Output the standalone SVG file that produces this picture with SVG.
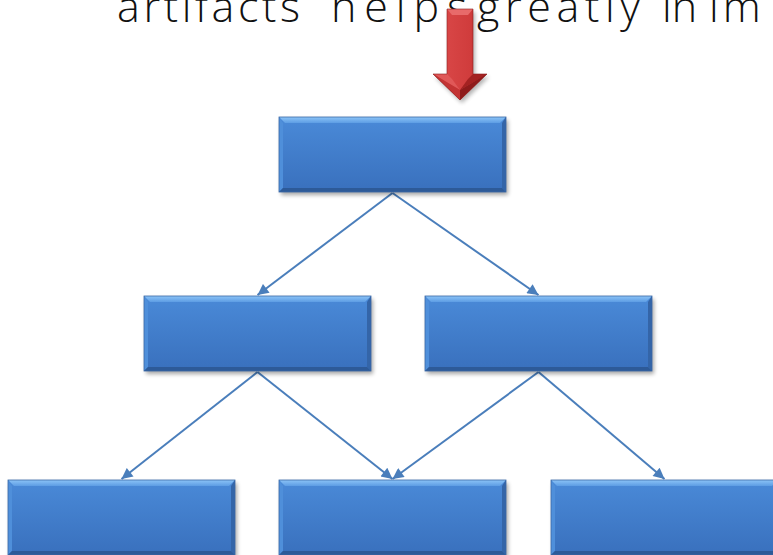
<svg xmlns="http://www.w3.org/2000/svg" xmlns:xlink="http://www.w3.org/1999/xlink" width="773" height="555" viewBox="0 0 773 555">
  <style>
    .title { font-family: "Open Sans", "DejaVu Sans", sans-serif; font-size: 43px; font-weight: 300; fill: #111111; }
    .conn { stroke: #4a7ebb; stroke-width: 2; fill: none; marker-end: url(#head); }
  </style>
  <defs>
    <linearGradient id="body" x1="0" y1="0" x2="0" y2="1">
      <stop offset="0" stop-color="#4a8ad8"/>
      <stop offset="1" stop-color="#3970bd"/>
    </linearGradient>
    <linearGradient id="topBevel" x1="0" y1="0" x2="0" y2="1">
      <stop offset="0" stop-color="#8cc4f7"/>
      <stop offset="1" stop-color="#5d9de4"/>
    </linearGradient>
    <linearGradient id="redShaft" x1="0" y1="0" x2="1" y2="0">
      <stop offset="0" stop-color="#b02626"/>
      <stop offset="0.25" stop-color="#d84646"/>
      <stop offset="0.7" stop-color="#d03c3c"/>
      <stop offset="1" stop-color="#9c1e1e"/>
    </linearGradient>
    <filter id="soft" x="-10%" y="-20%" width="120%" height="150%">
      <feGaussianBlur stdDeviation="2"/>
    </filter>
    <marker id="head" viewBox="0 0 10 10" refX="10" refY="5" markerWidth="7" markerHeight="5.5" orient="auto" markerUnits="strokeWidth">
      <path d="M0,0 L10,5 L0,10 z" fill="#4a7ebb"/>
    </marker>
    <!-- bevelled blue box, 227 x 75 -->
    <symbol id="box" overflow="visible">
      <rect x="2" y="3" width="227" height="75" fill="#000" opacity="0.35" filter="url(#soft)"/>
      <rect x="0" y="0" width="227" height="75" fill="url(#body)"/>
      <polygon points="0,0 227,0 221,6 6,6" fill="url(#topBevel)"/>
      <polygon points="0,0 4,6 4,71 0,75" fill="#4f8fda"/>
      <polygon points="227,0 223,6 223,71 227,75" fill="#3465a8"/>
      <polygon points="0,75 4,71 223,71 227,75" fill="#2d5a98"/>
      <rect x="0" y="0" width="227" height="75" fill="none" stroke="#3a68a6" stroke-width="0.8"/>
    </symbol>
  </defs>

  <rect width="773" height="555" fill="#ffffff"/>

  <!-- heading line, running past the top edge -->
  <g id="heading">
    <text class="title" x="117" y="22" textLength="183" lengthAdjust="spacing">artifacts</text>
    <text class="title" x="331" y="22" textLength="136" lengthAdjust="spacing">helps</text>
    <text class="title" x="477" y="22" textLength="163" lengthAdjust="spacing">greatly</text>
    <text class="title" x="662" y="22">in</text>
    <text class="title" x="709" y="22" letter-spacing="4">im</text>
  </g>

  <!-- red down arrow -->
  <g id="red-arrow">
    <polygon points="449,12 475,12 475,77 489,77 462,103 435,77 449,77" fill="#000" opacity="0.3" filter="url(#soft)"/>
    <polygon points="447,9 473,9 473,74 487,74 460,100 433,74 447,74" fill="url(#redShaft)"/>
    <polygon points="447,9 473,9 468,15 452,15" fill="#e86a6a"/>
    <polygon points="433,74 447,74 452,79 460,90" fill="#e05858"/>
    <polygon points="487,74 473,74 468,79 460,90" fill="#a42222"/>
    <polygon points="433,74 460,100 460,90" fill="#c33434"/>
    <polygon points="487,74 460,100 460,90" fill="#8e1b1b"/>
    <polygon points="447,9 473,9 473,74 487,74 460,100 433,74 447,74" fill="none" stroke="#8e1e1e" stroke-width="0.6"/>
  </g>

  <!-- connectors -->
  <g id="connectors">
    <line class="conn" x1="392.5" y1="193" x2="257.5" y2="295"/>
    <line class="conn" x1="392.5" y1="193" x2="538.5" y2="295"/>
    <line class="conn" x1="257.5" y1="372" x2="121.5" y2="479"/>
    <line class="conn" x1="257.5" y1="372" x2="392.5" y2="479"/>
    <line class="conn" x1="538.5" y1="372" x2="392.5" y2="479"/>
    <line class="conn" x1="538.5" y1="372" x2="664.5" y2="479"/>
  </g>

  <g id="node-root"><use xlink:href="#box" x="279" y="117"/></g>
  <g id="node-mid-left"><use xlink:href="#box" x="144" y="296"/></g>
  <g id="node-mid-right"><use xlink:href="#box" x="425" y="296"/></g>
  <g id="node-bottom-left"><use xlink:href="#box" x="8" y="480"/></g>
  <g id="node-bottom-mid"><use xlink:href="#box" x="279" y="480"/></g>
  <g id="node-bottom-right"><use xlink:href="#box" x="551" y="480"/></g>
</svg>
